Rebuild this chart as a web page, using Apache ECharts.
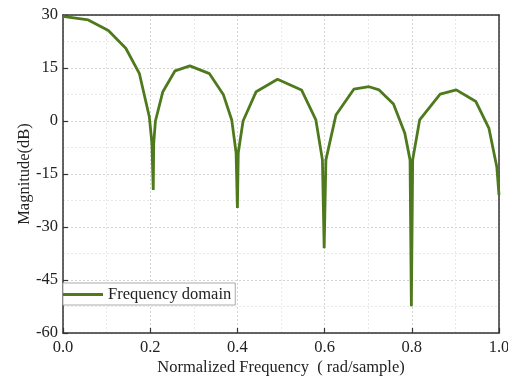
<!DOCTYPE html>
<html>
<head>
<meta charset="utf-8">
<script src="https://cdn.jsdelivr.net/npm/echarts@6/dist/echarts.min.js"></script>
<style>
  html, body { margin: 0; padding: 0; background: #fff; }
  #chart { width: 508px; height: 379px; }
</style>
</head>
<body>
<div id="chart"></div>
<script>
// normalized frequency (x) and magnitude in dB (y)
const freq = [0, 0.058, 0.104, 0.144, 0.175, 0.198, 0.204, 0.207, 0.208, 0.212,
  0.229, 0.257, 0.291, 0.336, 0.368, 0.387, 0.397, 0.400, 0.402, 0.413,
  0.443, 0.492, 0.547, 0.580, 0.595, 0.599, 0.603, 0.626, 0.667, 0.702,
  0.725, 0.758, 0.784, 0.796, 0.799, 0.802, 0.818, 0.865, 0.902, 0.947,
  0.977, 0.995, 1.0]
const magnitude = [29.6, 28.6, 25.6, 20.6, 13.5, 1.2, -6.3, -19.5, -6.5, 0,
  8.3, 14.2, 15.6, 13.4, 7.4, 0.3, -9, -24.6, -9, 0,
  8.3, 11.8, 8.8, 0.3, -11, -36, -11, 1.7, 9.0, 9.7,
  8.8, 4.8, -3.5, -11, -52.4, -11, 0.3, 7.6, 8.8, 5.5,
  -2.1, -13, -21]

const seriesName = 'Frequency domain'
const xTitle = 'Normalized Frequency  ( rad/sample)'
const yTitle = 'Magnitude(dB)'

const font = 'Liberation Serif'
const lineColor = '#4e7a1d'
const frameColor = '#333'

const chart = echarts.init(document.getElementById('chart'), null, { renderer: 'canvas' })

const axisCommon = {
  axisLine: { show: true, onZero: false, lineStyle: { color: frameColor, width: 1.5 } },
  axisTick: { show: true, inside: true, length: 5, lineStyle: { color: frameColor, width: 1.2 } },
  splitLine: { show: true, lineStyle: { color: '#c8c8c8', type: [2, 2], width: 0.8 } },
  minorTick: { show: false, splitNumber: 2 },
  minorSplitLine: { show: true, lineStyle: { color: '#e2e2e2', type: [2, 2], width: 0.8 } },
  axisLabel: { color: '#222', fontFamily: font, fontSize: 16.5 },
  nameTextStyle: { color: '#222', fontFamily: font, fontSize: 16.5 },
  nameMoveOverlap: false
}

// plain frame lines for the top and right edges
const frameAxis = {
  axisLine: { show: true, onZero: false, lineStyle: { color: frameColor, width: 1.5 } },
  axisTick: { show: false },
  axisLabel: { show: false },
  splitLine: { show: false }
}

chart.setOption({
  animation: false,
  backgroundColor: '#fff',
  grid: { left: 63, right: 9, top: 15, bottom: 46, outerBoundsMode: 'none' },
  legend: {
    left: 63, top: 283,
    padding: [3, 4, 2, 0],
    icon: 'rect',
    itemWidth: 40,
    itemHeight: 3,
    itemGap: 4,
    backgroundColor: '#fff',
    borderColor: '#aaa',
    borderWidth: 1,
    textStyle: { color: '#222', fontFamily: font, fontSize: 16.5 },
    data: [seriesName]
  },
  xAxis: [{
    ...axisCommon,
    type: 'value',
    min: 0, max: 1, interval: 0.2,
    name: xTitle,
    nameLocation: 'middle',
    nameGap: 26,
    axisLabel: { ...axisCommon.axisLabel, margin: 6, formatter: v => v.toFixed(1) }
  }, {
    ...frameAxis,
    type: 'value',
    position: 'top',
    min: 0, max: 1
  }],
  yAxis: [{
    ...axisCommon,
    type: 'value',
    min: -60, max: 30, interval: 15,
    name: yTitle,
    nameLocation: 'middle',
    nameGap: 30,
    axisLabel: { ...axisCommon.axisLabel, margin: 5 }
  }, {
    ...frameAxis,
    type: 'value',
    position: 'right',
    min: -60, max: 30
  }],
  series: [{
    name: seriesName,
    type: 'line',
    data: freq.map((f, i) => [f, magnitude[i]]),
    symbol: 'none',
    lineStyle: { color: lineColor, width: 2.8 },
    itemStyle: { color: lineColor }
  }]
})
</script>
</body>
</html>
